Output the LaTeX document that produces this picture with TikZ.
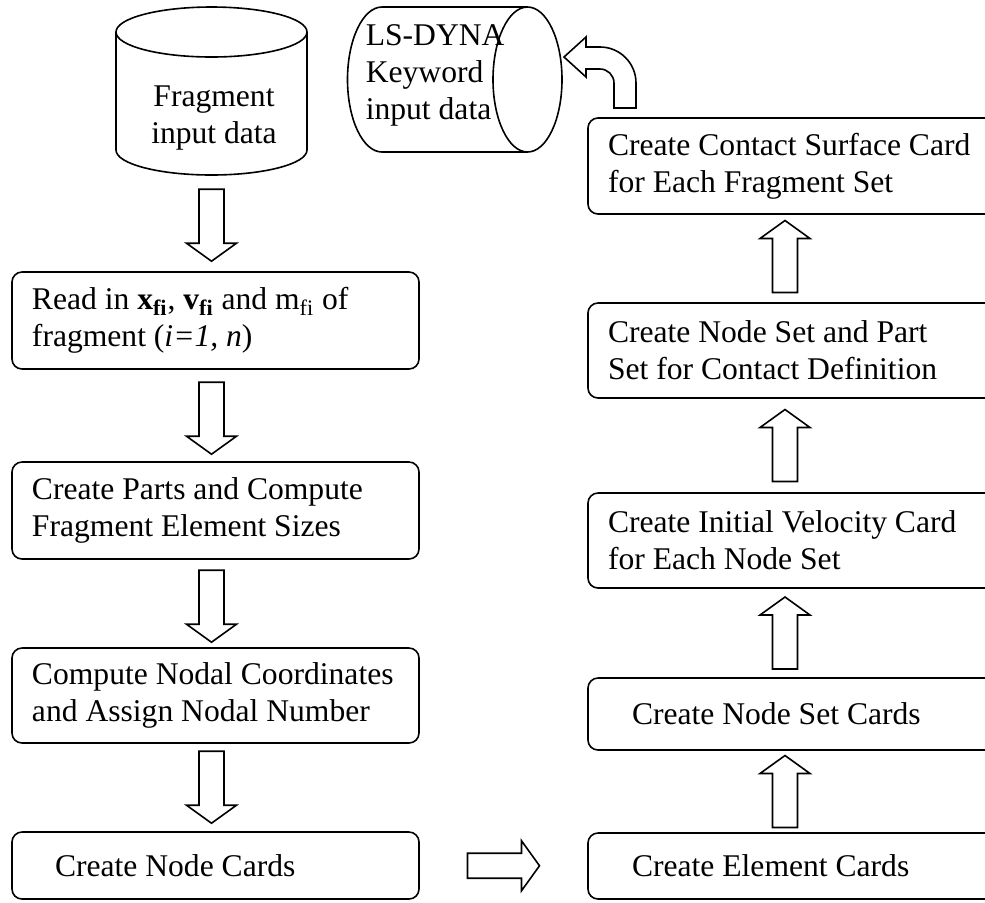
\documentclass[tikz,border=0pt]{standalone}
\usepackage{fontspec}
\setmainfont{Liberation Serif}
\usetikzlibrary{calc}
\begin{document}
\begin{tikzpicture}[x=0.5pt,y=-0.5pt, line width=0.8pt,
  txt/.style={font=\fontsize{15.8}{18.5}\selectfont, inner sep=0pt, anchor=west, align=left},
  lbox/.style={draw, rounded corners=5pt, minimum width=203.5pt, inner sep=0pt},
  rbox/.style={draw, rounded corners=5pt, minimum width=206pt, inner sep=0pt},
  blk/.style={draw, fill=white, line join=miter},
  downarr/.pic={\draw[blk] (-12.5,-36) -- (12.5,-36) -- (12.5,18) -- (25,18) -- (0,36) -- (-25,18) -- (-12.5,18) -- cycle;}
]
\useasboundingbox (0,0) rectangle (985,902);
\clip (0,0) rectangle (985,902);

% Fragment input data cylinder
\node[minimum width=95.5pt, minimum height=84pt, inner sep=0pt] (frag) at (211.5,91) {};
\draw (211.5,32) ellipse [x radius=95.5, y radius=25];
\draw (116,32) -- (116,150)
  .. controls (116,163.8) and (158.8,175) .. (211.5,175)
  .. controls (264.2,175) and (307,163.8) .. (307,150) -- (307,32);
\node[txt, anchor=center, align=center] (fragt) at (214,118) {Fragment\\input data};

% LS-DYNA keyword cylinder (horizontal)
\draw (527.5,7) -- (382,7)
  .. controls (362.95,7) and (347.5,39.46) .. (347.5,79.5)
  .. controls (347.5,119.54) and (362.95,152) .. (382,152) -- (527.5,152);
\draw (527.5,79.5) ellipse [x radius=34.5, y radius=72.5];
\node[txt] (lst) at (365,75) {LS-DYNA\\Keyword\\input data};

% Left column
\node[lbox, minimum height=48.5pt] (b1) at (215.5,320.5) {};
\node[txt] (b1t) at ([xshift=10pt]b1.west) {Read in \textbf{x}\textsubscript{\textbf{fi}}, \textbf{v}\textsubscript{\textbf{fi}} and m\textsubscript{fi} of\\fragment (\textit{i=1, n})};
\node[lbox, minimum height=48.5pt] (b2) at (215.5,510.5) {};
\node[txt] (b2t) at ([xshift=10pt]b2.west) {Create Parts and Compute\\Fragment Element Sizes};
\node[lbox, minimum height=47.5pt] (b3) at (215.5,695.5) {};
\node[txt] (b3t) at ([xshift=10pt]b3.west) {Compute Nodal Coordinates\\and Assign Nodal Number};
\node[lbox, minimum height=33.5pt] (b4) at (215.5,865.5) {};
\node[txt] (b4t) at ([xshift=21.5pt]b4.west) {Create Node Cards};

% Right column
\node[rbox, minimum height=48pt] (ct) at (794,166) {};
\node[txt] (ctt) at ([xshift=10pt]ct.west) {Create Contact Surface Card\\for Each Fragment Set};
\node[rbox, minimum height=47.5pt] (nsp) at (794,350.5) {};
\node[txt] (nspt) at ([xshift=10pt]nsp.west) {Create Node Set and Part\\Set for Contact Definition};
\node[rbox, minimum height=47.5pt] (vel) at (794,540.5) {};
\node[txt] (velt) at ([xshift=10pt]vel.west) {Create Initial Velocity Card\\for Each Node Set};
\node[rbox, minimum height=36pt] (nsc) at (794,714) {};
\node[txt] (nsct) at ([xshift=22pt]nsc.west) {Create Node Set Cards};
\node[rbox, minimum height=33pt] (el) at (794,866) {};
\node[txt] (elt) at ([xshift=22pt]el.west) {Create Element Cards};

% Down arrows (left column)
\pic at ($(b1.north -| frag.center)+(0,-46)$) {downarr};
\pic at ($(b2.north -| frag.center)+(0,-43)$) {downarr};
\pic at ($(b3.north -| frag.center)+(0,-41)$) {downarr};
\pic at ($(b4.north -| frag.center)+(0,-44)$) {downarr};

% Right arrow
\pic[rotate=90] at ($(b4.east)!0.5!(el.west)$) {downarr};

% Up arrows (right column)
\pic[rotate=180] at ($(nsc.south)!0.5!(el.north)+(-9,0)$) {downarr};
\pic[rotate=180] at ($(vel.south)!0.5!(nsc.north)+(-9,0)$) {downarr};
\pic[rotate=180] at ($(nsp.south)!0.5!(vel.north)+(-9,0)$) {downarr};
\pic[rotate=180] at ($(ct.south)!0.5!(nsp.north)+(-9,-2)$) {downarr};

% Bent arrow from contact card to LS-DYNA data
\draw[blk] (614,108) -- (636,108) -- (636,83)
  .. controls (636,63.12) and (619.88,47) .. (600,47)
  -- (586,47) -- (586,37) -- (564,57) -- (586,77) -- (586,69) -- (600,69)
  .. controls (607.73,69) and (614,75.27) .. (614,83) -- cycle;
\end{tikzpicture}
\end{document}
